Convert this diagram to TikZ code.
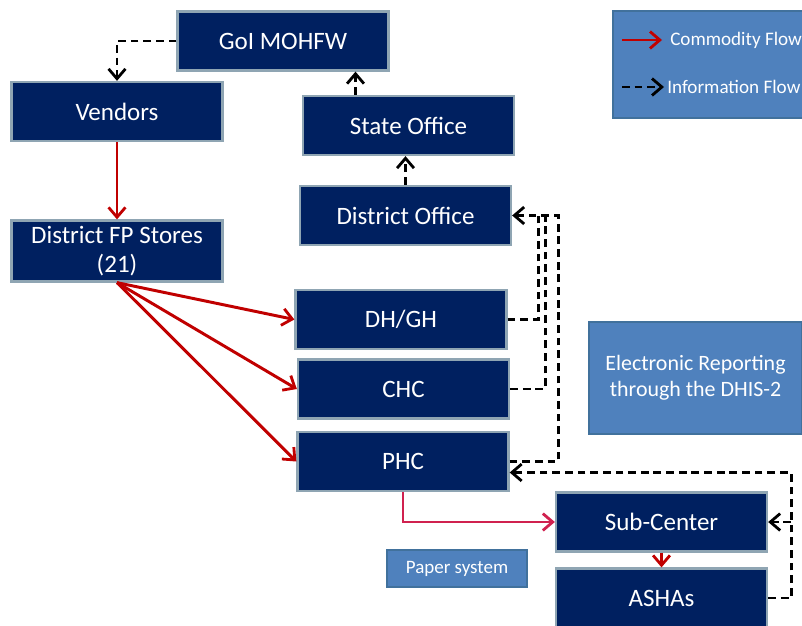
\documentclass[tikz,border=0pt]{standalone}
\usepackage{fontspec}
\setmainfont{Carlito}
\usepackage{tikz}
\usetikzlibrary{arrows.meta,calc}
\definecolor{navybox}{HTML}{002060}
\definecolor{navyborder}{HTML}{8FA5B3}
\definecolor{legendblue}{HTML}{4F81BD}
\definecolor{legendborder}{HTML}{41719C}
\definecolor{flowred}{HTML}{C00000}
\definecolor{flowcrimson}{HTML}{D0214F}

\begin{document}
\begin{tikzpicture}[
    x=0.025cm, y=-0.025cm,
    box/.style={rectangle, fill=navybox, draw=navyborder, line width=1.6pt, minimum width=5.275cm, minimum height=1.475cm, align=center, text=white, font=\fontsize{17.8}{20.6}\selectfont, inner sep=2pt},
    bluebox/.style={rectangle, fill=legendblue, draw=legendborder, line width=1pt, align=center, text=white, inner sep=2pt},
    legendtext/.style={anchor=west, inner sep=0pt, text=white, font=\fontsize{13.6}{16}\selectfont},
    commodity/.style={-{Straight Barb[length=7pt,width=12pt,line width=2pt]}, line width=2.1pt, color=flowred},
    inforoute/.style={line width=2pt, dash pattern=on 5.5pt off 3.5pt, color=black},
    info/.style={inforoute, -{Straight Barb[length=7pt,width=12pt,line width=2pt]}}
]
    \path[use as bounding box] (0,0) rectangle (802,625);
    \clip (0,0) rectangle (802,625);

    % --- SUPPLY CHAIN BOXES ---
    \node[box] (goi) at (283,41) {GoI MOHFW};
    \node[box] (vendors) at (117,111.5) {Vendors};
    \node[box] (state) at (408.5,125.5) {State Office};
    \node[box] (district) at (405.5,215.5) {District Office};
    \node[box, minimum height=1.525cm] (fpstores) at (117,251) {District FP Stores\\(21)};
    \node[box] (dhgh) at (401,319.5) {DH/GH};
    \node[box] (chc) at (403.5,389) {CHC};
    \node[box] (phc) at (403,461.5) {PHC};
    \node[box] (subcenter) at (661.5,522) {Sub-Center};
    \node[box] (ashas) at (661.5,598) {ASHAs};

    % --- LEGEND AND NOTES ---
    \node[bluebox, minimum width=5cm, minimum height=2.675cm] (legend) at (713,64.5) {};
    \coordinate (redtail) at (622,40);
    \coordinate (redhead) at (662,40);
    \draw[commodity] (redtail) -- (redhead);
    \node[legendtext] (commlabel) at (670,40) {Commodity Flow};
    \coordinate (infotail) at (622,87);
    \coordinate (infohead) at (664,87);
    \draw[info] (infotail) -- (infohead);
    \node[legendtext] (infolabel) at (667,87) {Information Flow};

    \node[bluebox, minimum width=5.325cm, minimum height=2.8cm, font=\fontsize{15.6}{18.5}\selectfont] (dhis) at (695.5,378) {Electronic Reporting\\through the DHIS-2};
    \node[bluebox, minimum width=3.5cm, minimum height=0.925cm, font=\fontsize{13.5}{16}\selectfont] (paper) at (457,568.5) {Paper system};

    % --- COMMODITY FLOW ---
    \draw[commodity] (vendors.south) -- (fpstores.north);
    \foreach \dest in {dhgh, chc, phc}
        \draw[commodity] (fpstores.south) -- (\dest.west);
    \draw[commodity, color=flowcrimson] (phc.south) |- (subcenter.west);
    \draw[commodity] (subcenter.south) -- (ashas.north);

    % --- INFORMATION FLOW ---
    \draw[info] (goi.west) -| (vendors.north);
    \coordinate (statetap) at ($(state.north)+(-53,0)$);
    \draw[info] (statetap) -- (statetap |- goi.south);
    \draw[info] (district.north) -- (district.north |- state.south);

    % reports up to the district office
    \draw[inforoute] (dhgh.east) -| ($(district.east)+(26,0)$);
    \draw[inforoute] (chc.east) -| ($(district.east)+(33,0)$);
    \draw[info] (phc.east) -| ($(district.east)+(46,0)$) -- (district.east);

    % reports from the ASHAs
    \coordinate (ashaturn) at ($(ashas.east)+(23,0)$);
    \draw[info] (ashas.east) -- (ashaturn) |- ($(phc.east)+(0,11)$);
    \draw[info] (ashaturn |- subcenter.east) -- (subcenter.east);
\end{tikzpicture}
\end{document}
